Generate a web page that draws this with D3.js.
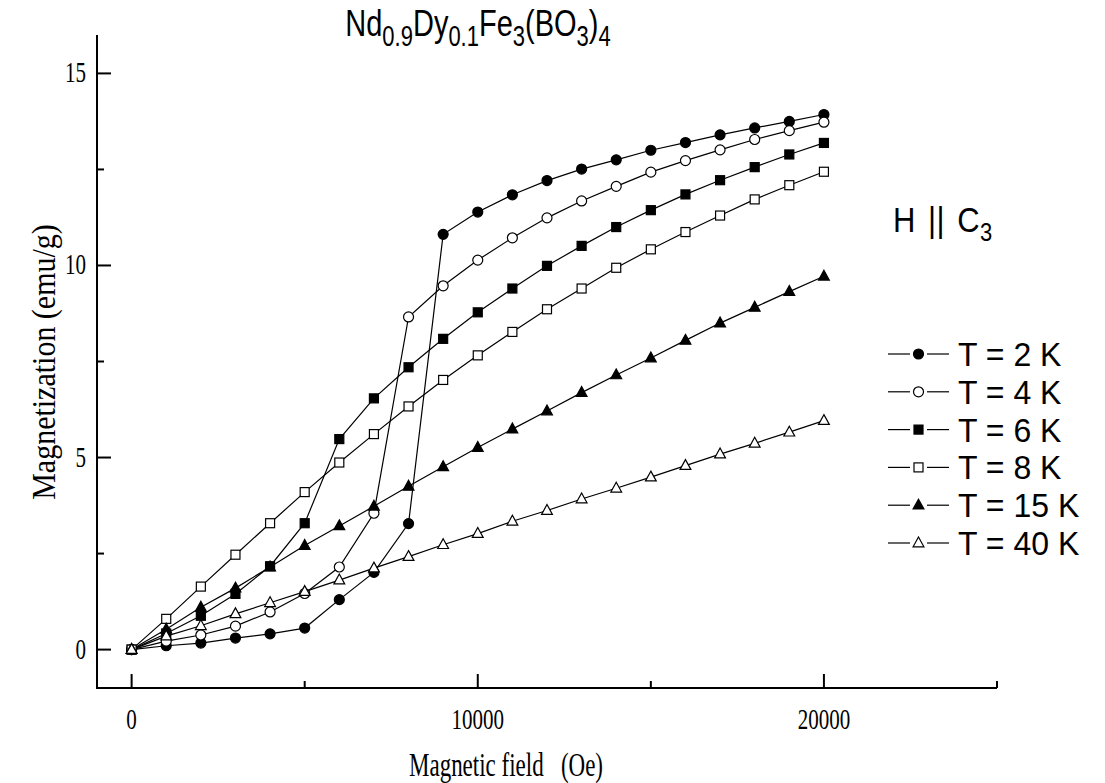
<!DOCTYPE html>
<html>
<head>
<meta charset="utf-8">
<script src="https://cdn.jsdelivr.net/npm/d3@7"></script>
<style>
  body { margin: 0; background: #fff; }
  svg { display: block; }
</style>
</head>
<body>
<div id="chart"></div>
<script>
// field steps, Oe
var fields = [0, 1000, 2000, 3000, 4000, 5000, 6000, 7000, 8000, 9000, 10000,
    11000, 12000, 13000, 14000, 15000, 16000, 17000, 18000, 19000, 20000];

// magnetization (emu/g)
var m2K  = [0, 0.10, 0.17, 0.30, 0.41, 0.56, 1.30, 2.01, 3.28, 10.81, 11.39,
    11.84, 12.21, 12.51, 12.75, 13.00, 13.20, 13.40, 13.58, 13.75, 13.93];
var m4K  = [0, 0.22, 0.38, 0.61, 0.98, 1.46, 2.15, 3.55, 8.66, 9.47, 10.14,
    10.72, 11.24, 11.68, 12.06, 12.43, 12.73, 13.01, 13.28, 13.51, 13.73];
var m6K  = [0, 0.42, 0.88, 1.45, 2.17, 3.29, 5.48, 6.54, 7.35, 8.09, 8.78,
    9.40, 9.99, 10.51, 11.00, 11.44, 11.85, 12.22, 12.56, 12.89, 13.19];
var m8K  = [0, 0.80, 1.64, 2.47, 3.29, 4.10, 4.87, 5.61, 6.33, 7.02, 7.66,
    8.27, 8.86, 9.40, 9.94, 10.42, 10.87, 11.30, 11.72, 12.09, 12.44];
var m15K = [0, 0.53, 1.10, 1.60, 2.15, 2.71, 3.22, 3.73, 4.25, 4.76, 5.26,
    5.74, 6.21, 6.69, 7.15, 7.59, 8.05, 8.50, 8.91, 9.32, 9.72];
var m40K = [0, 0.35, 0.62, 0.93, 1.22, 1.51, 1.81, 2.12, 2.42, 2.73, 3.02,
    3.34, 3.62, 3.92, 4.20, 4.49, 4.79, 5.09, 5.37, 5.66, 5.96];

var seriesNames = ["T = 2 K", "T = 4 K", "T = 6 K", "T = 8 K", "T = 15 K", "T = 40 K"];
var seriesValues = [m2K, m4K, m6K, m8K, m15K, m40K];
var seriesShapes = ["circle", "circle", "square", "square", "triangle", "triangle"];
var seriesFilled = [true, false, true, false, true, false];

var xMajorTicks = [0, 10000, 20000];
var xMinorTicks = [5000, 15000, 25000];
var yMajorTicks = [0, 5, 10, 15];
var yMinorTicks = [2.5, 7.5, 12.5];

var width = 1105, height = 783;
var svg = d3.select("#chart").append("svg")
    .attr("width", width)
    .attr("height", height);

var x = d3.scaleLinear().domain([-1000, 25000]).range([97, 997]);
var y = d3.scaleLinear().domain([-1, 16]).range([688, 35]);

var serif = "'Liberation Serif', 'Times New Roman', serif";
var sans = "'Liberation Sans', Arial, sans-serif";

// text helper - the original plot is stretched vertically, so stretch fonts the same way
function label(g, tx, ty, str, size, family, anchor, sy) {
    return g.append("text")
        .attr("transform", "translate(" + tx + "," + ty + ") scale(1," + (sy || 1) + ")")
        .attr("text-anchor", anchor || "start")
        .style("font-family", family)
        .style("font-size", size + "px")
        .attr("fill", "#000")
        .text(str);
}

// axes
var axes = svg.append("g");
axes.append("line")
    .attr("x1", x.range()[0]).attr("x2", x.range()[0])
    .attr("y1", y.range()[0] + 1).attr("y2", y.range()[1])
    .attr("stroke", "#000").attr("stroke-width", 2);
axes.append("line")
    .attr("x1", x.range()[0]).attr("x2", x.range()[1])
    .attr("y1", y.range()[0]).attr("y2", y.range()[0])
    .attr("stroke", "#000").attr("stroke-width", 2);

axes.selectAll(".xmaj").data(xMajorTicks).enter().append("line")
    .attr("x1", function (d) { return x(d); }).attr("x2", function (d) { return x(d); })
    .attr("y1", y.range()[0]).attr("y2", y.range()[0] - 14)
    .attr("stroke", "#000").attr("stroke-width", 2);
axes.selectAll(".xmin").data(xMinorTicks).enter().append("line")
    .attr("x1", function (d) { return x(d); }).attr("x2", function (d) { return x(d); })
    .attr("y1", y.range()[0]).attr("y2", y.range()[0] - 7)
    .attr("stroke", "#000").attr("stroke-width", 2);
axes.selectAll(".ymaj").data(yMajorTicks).enter().append("line")
    .attr("x1", x.range()[0]).attr("x2", x.range()[0] + 14)
    .attr("y1", function (d) { return y(d); }).attr("y2", function (d) { return y(d); })
    .attr("stroke", "#000").attr("stroke-width", 2);
axes.selectAll(".ymin").data(yMinorTicks).enter().append("line")
    .attr("x1", x.range()[0]).attr("x2", x.range()[0] + 7)
    .attr("y1", function (d) { return y(d); }).attr("y2", function (d) { return y(d); })
    .attr("stroke", "#000").attr("stroke-width", 2);

xMajorTicks.forEach(function (d) {
    label(axes, x(d), 729, d3.format("d")(d), 21, serif, "middle", 1.45);
});
yMajorTicks.forEach(function (d) {
    label(axes, 86, y(d) + 9, d3.format("d")(d), 21, serif, "end", 1.45);
});

label(svg, 506, 776, "Magnetic field\u00a0\u00a0\u00a0(Oe)", 23, serif, "middle", 1.45);
svg.append("text")
    .attr("transform", "translate(55,362) rotate(-90) scale(1,1.1)")
    .attr("text-anchor", "middle")
    .style("font-family", serif)
    .style("font-size", "30px")
    .text("Magnetization (emu/g)");

// title with subscripts
var title = svg.append("text")
    .attr("transform", "translate(478,36) scale(1,1.3)")
    .attr("text-anchor", "middle")
    .style("font-family", sans)
    .style("font-size", "29px");
[["Nd", 0], ["0.9", 1], ["Dy", 0], ["0.1", 1], ["Fe", 0], ["3", 1], ["(BO", 0], ["3", 1], [")", 0], ["4", 1]]
    .forEach(function (p, i, arr) {
        var prevSub = i > 0 && arr[i - 1][1];
        var dy = p[1] ? (prevSub ? 0 : 8) : (prevSub ? -8 : 0);
        title.append("tspan")
            .attr("dy", dy)
            .style("font-size", p[1] ? "22px" : "29px")
            .text(p[0]);
    });

var hc = svg.append("text")
    .attr("transform", "translate(893,232) scale(1,1.15)")
    .style("font-family", sans)
    .style("font-size", "31px")
    .style("word-spacing", "3px")
    .style("letter-spacing", "0.5px");
hc.append("tspan").text("H || C");
hc.append("tspan").attr("dy", 8).style("font-size", "22px").text("3");

// marker drawing
function drawMarker(g, shape, filled, cx, cy) {
    var fill = filled ? "#000" : "#fff";
    if (shape === "circle") {
        g.append("circle").attr("cx", cx).attr("cy", cy).attr("r", 5)
            .attr("fill", fill).attr("stroke", "#000").attr("stroke-width", 1.2);
    } else if (shape === "square") {
        g.append("rect").attr("x", cx - 4.5).attr("y", cy - 4.5)
            .attr("width", 9).attr("height", 9)
            .attr("fill", fill).attr("stroke", "#000").attr("stroke-width", 1.2);
    } else {
        g.append("path")
            .attr("d", "M" + cx + "," + (cy - 6) + "L" + (cx + 5.4) + "," + (cy + 3.8) +
                "L" + (cx - 5.4) + "," + (cy + 3.8) + "Z")
            .attr("fill", fill).attr("stroke", "#000").attr("stroke-width", 1.2);
    }
}

var line = d3.line()
    .x(function (d) { return x(d[0]); })
    .y(function (d) { return y(d[1]); });

var plot = svg.append("g");
seriesValues.forEach(function (vals, i) {
    var pts = fields.map(function (f, j) { return [f, vals[j]]; });
    plot.append("path")
        .attr("d", line(pts))
        .attr("fill", "none")
        .attr("stroke", "#000")
        .attr("stroke-width", 1.2);
});
seriesValues.forEach(function (vals, i) {
    var g = plot.append("g");
    fields.forEach(function (f, j) {
        drawMarker(g, seriesShapes[i], seriesFilled[i], x(f), y(vals[j]));
    });
});

// legend
var legend = svg.append("g");
seriesNames.forEach(function (name, i) {
    var ly = 354 + i * 37.8;
    legend.append("line").attr("x1", 888).attr("x2", 910)
        .attr("y1", ly).attr("y2", ly).attr("stroke", "#000").attr("stroke-width", 1.2);
    legend.append("line").attr("x1", 927).attr("x2", 949)
        .attr("y1", ly).attr("y2", ly).attr("stroke", "#000").attr("stroke-width", 1.2);
    drawMarker(legend, seriesShapes[i], seriesFilled[i], 918.5, ly);
    label(legend, 958, ly + 12, name, 32, sans, "start", 1.05);
});
</script>
</body>
</html>
